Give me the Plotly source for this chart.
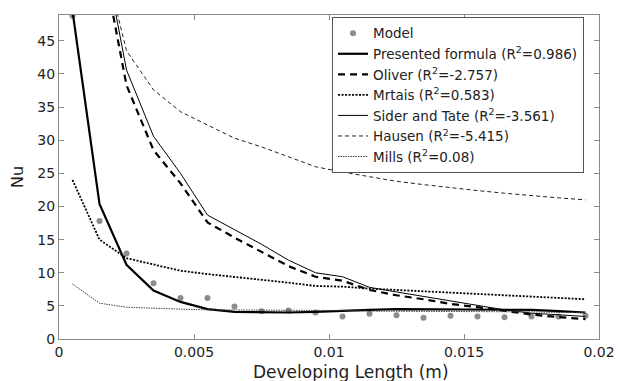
import plotly.graph_objects as go

x = [0.0005, 0.0015, 0.0025, 0.0035, 0.0045, 0.0055, 0.0065, 0.0075, 0.0085, 0.0095,
     0.0105, 0.0115, 0.0125, 0.0135, 0.0145, 0.0155, 0.0165, 0.0175, 0.0185, 0.0195]

model = [48.8, 17.8, 12.9, 8.4, 6.2, 6.2, 4.9, 4.2, 4.3, 4.0,
         3.4, 3.8, 3.6, 3.2, 3.5, 3.4, 3.3, 3.4, 3.4, 3.5]
presented = [49.5, 20.4, 11.2, 7.3, 5.6, 4.5, 4.1, 4.0, 4.0, 4.1,
             4.3, 4.4, 4.5, 4.5, 4.5, 4.5, 4.4, 4.4, 4.2, 4.0]
oliver = [110.0, 59.7, 38.3, 28.5, 23.5, 17.6, 15.3, 13.2, 11.0, 9.4,
          8.8, 7.4, 6.6, 6.0, 5.3, 4.8, 4.2, 3.7, 3.3, 3.0]
mrtais = [24.0, 15.0, 12.2, 11.2, 10.3, 9.8, 9.4, 9.0, 8.5, 8.0,
          7.9, 7.6, 7.4, 7.2, 7.0, 6.9, 6.7, 6.5, 6.3, 6.0]
sider = [115.0, 62.0, 40.6, 30.6, 25.0, 18.7, 16.5, 14.3, 11.9, 10.0,
         9.4, 7.8, 7.1, 6.4, 5.7, 5.0, 4.4, 3.9, 3.6, 3.4]
hausen = [110.0, 60.0, 43.5, 37.6, 34.3, 32.3, 30.3, 29.0, 27.5, 26.0,
          25.2, 24.5, 23.8, 23.3, 22.8, 22.4, 22.0, 21.6, 21.3, 21.0]
mills = [8.3, 5.4, 4.8, 4.6, 4.5, 4.4, 4.4, 4.3, 4.3, 4.3,
         4.3, 4.2, 4.2, 4.2, 4.2, 4.1, 4.1, 4.1, 4.0, 4.0]

names = ["Model",
         "Presented formula (R<sup>2</sup>=0.986)",
         "Oliver (R<sup>2</sup>=-2.757)",
         "Mrtais (R<sup>2</sup>=0.583)",
         "Sider and Tate (R<sup>2</sup>=-3.561)",
         "Hausen (R<sup>2</sup>=-5.415)",
         "Mills (R<sup>2</sup>=0.08)"]

x_ticks = [0, 0.005, 0.01, 0.015, 0.02]
x_ticktext = ["0", "0.005", "0.01", "0.015", "0.02"]
y_ticks = [0, 5, 10, 15, 20, 25, 30, 35, 40, 45]

FONT = "DejaVu Sans, Arial"

fig = go.Figure()
fig.add_trace(go.Scatter(x=x, y=model, mode="markers", name=names[0],
                         marker=dict(color="#8c8c8c", size=6)))
fig.add_trace(go.Scatter(x=x, y=presented, mode="lines", name=names[1],
                         line=dict(color="black", width=2.2)))
fig.add_trace(go.Scatter(x=x, y=oliver, mode="lines", name=names[2],
                         line=dict(color="black", width=2.2, dash="7px,5px")))
fig.add_trace(go.Scatter(x=x, y=mrtais, mode="lines", name=names[3],
                         line=dict(color="black", width=1.8, dash="2px,1.5px")))
fig.add_trace(go.Scatter(x=x, y=sider, mode="lines", name=names[4],
                         line=dict(color="black", width=1)))
fig.add_trace(go.Scatter(x=x, y=hausen, mode="lines", name=names[5],
                         line=dict(color="#222", width=1, dash="4px,3px")))
fig.add_trace(go.Scatter(x=x, y=mills, mode="lines", name=names[6],
                         line=dict(color="#444", width=1, dash="1.5px,1px")))

axis_common = dict(showline=True, linecolor="#8a8a8a", linewidth=1, mirror="ticks",
                   ticks="inside", ticklen=5, tickcolor="#8a8a8a", showgrid=False,
                   zeroline=False, automargin=False,
                   tickfont=dict(family=FONT, size=14, color="#222"))

fig.update_xaxes(range=[0, 0.02], tickvals=x_ticks, ticktext=x_ticktext, **axis_common)
fig.update_yaxes(range=[0, 48.9], tickvals=y_ticks,
                 title=dict(text="Nu", standoff=9,
                            font=dict(family=FONT, size=16, color="#222")),
                 **axis_common)

fig.add_annotation(text="Developing Length (m)", xref="paper", yref="paper",
                   x=0.54, y=-0.102, xanchor="center", yanchor="middle",
                   showarrow=False, font=dict(family=FONT, size=17, color="#222"))

fig.update_layout(
    width=618, height=381,
    margin=dict(l=59, r=19, t=15, b=42, autoexpand=False),
    paper_bgcolor="white", plot_bgcolor="white",
    font=dict(family=FONT, size=14, color="#222"),
    legend=dict(x=0.5056, y=0.994, xanchor="left", yanchor="top",
                bgcolor="white", bordercolor="#555", borderwidth=1,
                font=dict(family=FONT, size=13.5, color="#222"), tracegroupgap=0,
                itemwidth=30),
    showlegend=True,
)

fig.write_html("out.html", config={"displayModeBar": False},
               post_script="document.body.style.margin='0';document.body.style.overflow='hidden';")
